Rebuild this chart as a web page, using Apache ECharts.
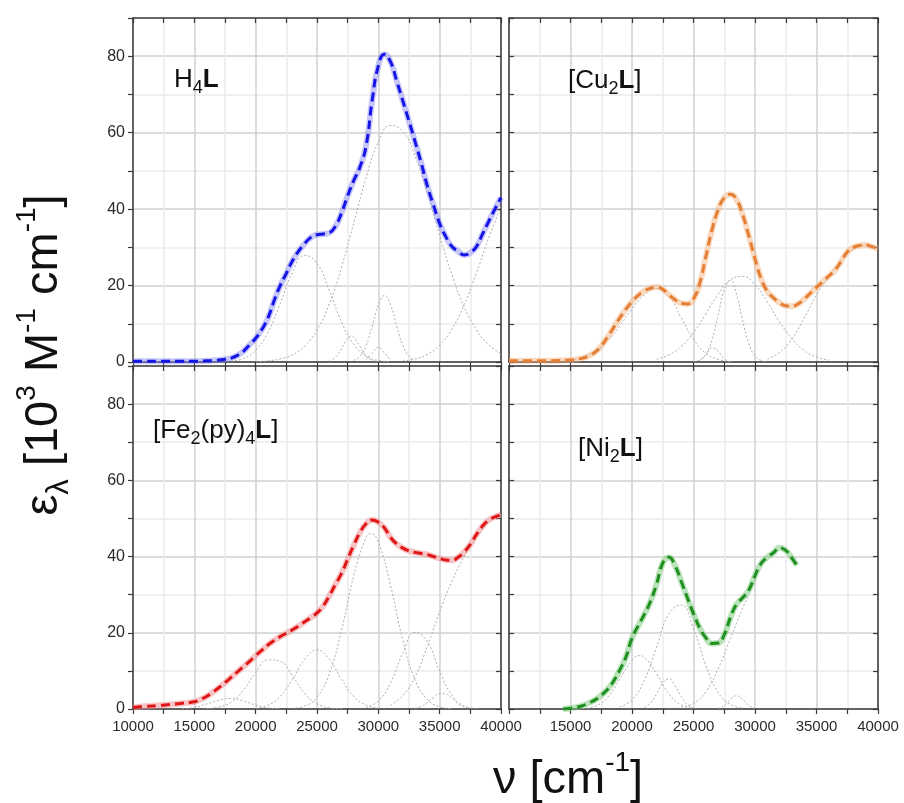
<!DOCTYPE html>
<html><head><meta charset="utf-8">
<script src="https://cdn.jsdelivr.net/npm/echarts@6/dist/echarts.min.js"></script>
<style>html,body{margin:0;padding:0;background:#fff}#c{width:904px;height:803px}</style>
</head><body><div id="c"></div>
<script>
// ---------- data (wavenumber cm^-1, epsilon 10^3 M^-1 cm^-1) ----------
const xTicks = [10000, 15000, 20000, 25000, 30000, 35000, 40000];
const yTicks = [0, 20, 40, 60, 80];

const h4lMain = [[10000,0.2],[11000,0.2],[12000,0.2],[13000,0.2],[14000,0.2],[15000,0.2],[16000,0.3],[16500,0.4],[17000,0.5],[17500,0.7],[18000,1.0],[18500,1.7],[19000,2.8],[19500,4.5],[20000,6.2],[20500,8.5],[21000,11.5],[21500,16],[22000,20],[22500,23.2],[23000,26.5],[23500,29],[24000,31],[24500,32.6],[25000,33.3],[25500,33.5],[26000,33.8],[26500,35.5],[27000,39],[27500,43.5],[28000,47.5],[28500,51],[29000,56.5],[29500,68.5],[30000,77.5],[30500,80.5],[31000,78.5],[31500,73.5],[32000,68.3],[32500,63],[33000,57.6],[33500,52],[34000,46],[34500,41],[35000,36.2],[35500,32.8],[36000,30.2],[36500,29],[37000,28],[37500,28.6],[38000,30.2],[38500,33.5],[39000,36.8],[39500,40],[40000,43]];
const h4lC1 = [[18000,0.2],[19000,0.9],[20000,3.1],[21000,7.8],[22000,15.3],[23000,23.4],[24000,27.9],[25000,25.8],[26000,18.7],[27000,10.5],[28000,4.6],[29000,1.6],[30000,0.4],[31000,0.1]];
const h4lC2 = [[20000,0.1],[21000,0.3],[22000,0.8],[23000,1.9],[24000,4.2],[25000,8.4],[26000,15.2],[27000,24.8],[28000,36.4],[29000,48.2],[30000,57.5],[31000,61.9],[32000,60.3],[33000,53.9],[34000,44.2],[35000,33.2],[36000,22.8],[37000,14.4],[38000,8.4],[39000,4.5],[40000,2.2]];
const h4lC3 = [[26000,0.2],[26500,1.2],[27000,3.5],[27500,6.2],[27800,6.8],[28000,6.5],[28500,4.1],[29000,1.6],[29500,0.4],[30000,0.1]];
const h4lC4 = [[28000,0.4],[28500,1.5],[29000,4.3],[29500,9.4],[30000,14.9],[30500,17.4],[31000,14.9],[31500,9.4],[32000,4.3],[32500,1.5],[33000,0.4]];
const h4lC5 = [[29000,0.5],[29500,2.3],[30000,3.8],[30500,2.3],[31000,0.5]];
const h4lC6 = [[32000,0.3],[33000,0.8],[34000,2],[35000,4.4],[36000,8.6],[37000,15],[38000,23.3],[39000,32.5],[40000,40.6]];

const cuMain = [[10000,0.3],[12000,0.3],[14000,0.4],[15000,0.5],[15500,0.7],[16000,1.0],[16500,1.6],[17000,2.6],[17500,4.2],[18000,6.5],[18500,9],[19000,11.5],[19500,13.8],[20000,15.8],[20500,17.4],[21000,18.6],[21500,19.3],[22000,19.6],[22500,19.0],[23000,17.6],[23500,16.3],[24000,15.4],[24500,15.2],[25000,16.5],[25500,20.5],[26000,27.5],[26500,34.5],[27000,39.8],[27500,43],[28000,43.9],[28500,42.5],[29000,38.5],[29500,33],[30000,27],[30500,21.8],[31000,18.5],[31500,16.8],[32000,15.5],[32500,14.7],[33000,14.6],[33500,15.2],[34000,16.5],[34500,18],[35000,19.5],[35500,21],[36000,22.5],[36500,24],[37000,26.3],[37500,28.8],[38000,30],[38500,30.5],[39000,30.6],[39500,30.2],[40000,29.6]];
const cuC1 = [[15000,0.5],[16000,1.2],[17000,2.8],[18000,5.5],[19000,9.4],[20000,13.9],[21000,17.5],[22000,19.2],[23000,17.2],[24000,11.6],[25000,6.0],[26000,2.3],[27000,0.7],[28000,0.15]];
const cuC2 = [[25000,0.1],[25500,0.5],[26000,2.0],[26500,5.8],[27000,12.2],[27500,18.8],[28000,21.3],[28500,17.7],[29000,10.8],[29500,4.8],[30000,1.6],[30500,0.4],[31000,0.1]];
const cuC3 = [[22000,0.7],[23000,1.9],[24000,4.1],[25000,7.7],[26000,12.6],[27000,17.7],[28000,21.5],[29000,22.4],[30000,20.2],[31000,15.7],[32000,10.5],[33000,6.1],[34000,3.0],[35000,1.3],[36000,0.5]];
const cuC4 = [[25500,0.3],[26000,1.9],[26500,3.7],[27000,2.8],[27500,0.75],[28000,0.1]];
const cuC5 = [[31000,0.8],[32000,2.5],[33000,6],[34000,11.5],[35000,17.5],[36000,22.5],[37000,26.5],[38000,29.5],[39000,30.5],[40000,29.5]];

const feMain = [[10000,0.4],[11000,0.7],[12000,0.9],[13000,1.2],[14000,1.5],[15000,1.9],[15500,2.5],[16000,3.3],[16500,4.4],[17000,5.6],[17500,6.9],[18000,8.3],[18500,9.7],[19000,11.1],[19500,12.5],[20000,14],[20500,15.4],[21000,16.8],[21500,18],[22000,19],[22500,19.9],[23000,20.8],[23500,21.8],[24000,22.9],[24500,24],[25000,25.2],[25500,27],[26000,29.7],[26500,32.7],[27000,35.6],[27500,39.3],[28000,43],[28500,46.3],[29000,48.6],[29500,49.6],[30000,49],[30500,47.5],[31000,45],[31500,43.3],[32000,42.2],[32500,41.5],[33000,41.1],[33500,40.8],[34000,40.5],[34500,40],[35000,39.5],[35500,39.1],[36000,39],[36500,39.8],[37000,41.2],[37500,43.2],[38000,45.8],[38500,48],[39000,49.6],[39500,50.4],[40000,51]];
const feC1 = [[14000,0.1],[15000,0.4],[16000,1.3],[17000,2.3],[18000,2.8],[19000,2.1],[20000,1.05],[21000,0.3],[22000,0.07]];
const feC2 = [[16000,0.1],[17000,0.5],[18000,1.8],[19000,4.9],[20000,9.5],[21000,12.9],[22000,12.5],[23000,8.6],[24000,4.1],[25000,1.4],[26000,0.3],[27000,0.05]];
const feC3 = [[20000,0.2],[21000,1.0],[22000,3.3],[23000,7.8],[24000,13.0],[25000,15.5],[26000,13.0],[27000,7.8],[28000,3.3],[29000,1.0],[30000,0.2]];
const feC4 = [[23000,0.2],[24000,0.8],[25000,3.1],[26000,9.3],[27000,20.7],[28000,35],[29000,45],[29400,46],[30000,43.8],[31000,32.3],[32000,18],[33000,7.6],[34000,2.5],[35000,0.6],[36000,0.1]];
const feC5 = [[29000,0.4],[30000,2.1],[31000,6.9],[32000,14.7],[33000,20.1],[34000,17.6],[35000,9.9],[36000,3.6],[37000,0.8],[38000,0.15]];
const feC6 = [[33000,0.2],[33500,0.7],[34000,1.7],[34500,3.0],[35000,4.0],[35500,3.9],[36000,2.8],[36500,1.4],[37000,0.55],[37500,0.2]];
const feC7 = [[31000,1],[32000,3.5],[33000,8.5],[34000,16.5],[35000,25.5],[36000,33.5],[37000,40],[38000,45],[39000,49],[40000,51]];

const niMain = [[14400,0],[15000,0.2],[15500,0.5],[16000,0.9],[16500,1.6],[17000,2.4],[17500,3.6],[18000,5.1],[18500,7.3],[19000,10.2],[19500,13.6],[20000,18.6],[20500,21.8],[21000,24.8],[21500,28.2],[22000,32.8],[22500,38.3],[23000,39.8],[23500,37.6],[24000,33.5],[24500,29.2],[25000,25],[25500,21.3],[26000,18.7],[26500,17.2],[27000,17.3],[27500,19.5],[28000,24],[28500,27.5],[29000,29.2],[29500,31.2],[30000,35],[30500,38.2],[31000,39.8],[31500,41],[32000,42.3],[32500,41.6],[33000,39.6],[33400,37.7]];
const niC1 = [[16000,0.1],[17000,0.75],[18000,3.0],[19000,7.8],[20000,12.8],[20600,14],[21000,13.6],[22000,9.2],[23000,4.0],[24000,1.1],[25000,0.2]];
const niC2 = [[21000,0.4],[21500,1.6],[22000,4.0],[22500,6.8],[23000,7.9],[23500,6.1],[24000,3.2],[24500,1.15],[25000,0.3]];
const niC3 = [[19000,0.55],[20000,2.4],[21000,7.5],[22000,16.2],[23000,25],[24000,27.3],[25000,21.1],[26000,11.5],[27000,4.4],[28000,1.2],[29000,0.25]];
const niC4 = [[27000,0.15],[27500,0.9],[28000,2.5],[28500,3.5],[29000,2.5],[29500,0.9],[30000,0.15]];
const niC5 = [[24000,0.5],[25000,1.5],[26000,4.5],[27000,10.5],[28000,18.5],[28500,22.5],[29000,26.5],[29500,30]];

// ---------- layout / style ----------
const FF = '"Liberation Sans", Arial, Helvetica, sans-serif';
const GRIDS = [
  {left:133, top:18, width:368, height:344},
  {left:509, top:18, width:369, height:344},
  {left:133, top:366, width:368, height:343},
  {left:509, top:366, width:369, height:343}
];
const panels = [
  {main:h4lMain, comps:[h4lC1,h4lC2,h4lC3,h4lC4,h4lC5,h4lC6], pale:'rgba(130,130,245,0.45)', dark:'#1414e6'},
  {main:cuMain, comps:[cuC1,cuC2,cuC3,cuC4,cuC5], pale:'rgba(245,175,120,0.45)', dark:'#e57f35'},
  {main:feMain, comps:[feC1,feC2,feC3,feC4,feC5,feC6,feC7], pale:'rgba(240,140,140,0.5)', dark:'#e01515'},
  {main:niMain, comps:[niC1,niC2,niC3,niC4,niC5], pale:'rgba(120,200,120,0.5)', dark:'#1f8f1f'}
];
const AX = '#3a3a3a';
const xAxes = [], yAxes = [], series = [];
GRIDS.forEach((g, i) => {
  const isBottom = i >= 2, isLeft = i % 2 === 0;
  xAxes.push({type:'value', gridIndex:i, position:'bottom', min:xTicks[0], max:xTicks[xTicks.length-1], interval:2500,
    axisLine:{show:true, onZero:false, lineStyle:{color:AX, width:1.5}},
    axisTick:{show:true, inside:false, length:5, lineStyle:{color:AX, width:1.2}},
    axisLabel:{show:isBottom, fontSize:15, color:'#2a2a2a', fontFamily:FF, margin:10,
      formatter:v => (xTicks.includes(v) && !(i === 3 && v === 10000)) ? String(v) : ''},
    splitLine:{show:true, lineStyle:{color:['#d0d0d0','#ebebeb'], width:1.5}}});
  xAxes.push({type:'value', gridIndex:i, position:'top', min:xTicks[0], max:xTicks[xTicks.length-1], interval:2500,
    axisLine:{show:true, onZero:false, lineStyle:{color:AX, width:1.5}},
    axisTick:{show:true, inside:true, length:5, lineStyle:{color:AX, width:1.2}},
    axisLabel:{show:false}, splitLine:{show:false}});
  yAxes.push({type:'value', gridIndex:i, position:'left', min:0, max:90, interval:10,
    axisLine:{show:true, onZero:false, lineStyle:{color:AX, width:1.5}},
    axisTick:{show:true, inside:!isLeft, length:5, lineStyle:{color:AX, width:1.2}},
    axisLabel:{show:isLeft, fontSize:16, color:'#2a2a2a', fontFamily:FF, margin:8,
      formatter:v => yTicks.includes(v) ? String(v) : ''},
    splitLine:{show:true, lineStyle:{color:['#d0d0d0','#ebebeb'], width:1.5}}});
  yAxes.push({type:'value', gridIndex:i, position:'right', min:0, max:90, interval:10,
    axisLine:{show:true, onZero:false, lineStyle:{color:AX, width:1.5}},
    axisTick:{show:true, inside:true, length:5, lineStyle:{color:AX, width:1.2}},
    axisLabel:{show:false}, splitLine:{show:false}});
  const p = panels[i];
  p.comps.forEach(c => series.push({type:'line', xAxisIndex:2*i, yAxisIndex:2*i, data:c, showSymbol:false, smooth:true,
    clip:true, silent:true, z:2, lineStyle:{color:'#adadad', width:1, type:[2,2]}}));
  series.push({type:'line', xAxisIndex:2*i, yAxisIndex:2*i, data:p.main, showSymbol:false, smooth:true,
    clip:true, silent:true, z:3, lineStyle:{color:p.pale, width:6}});
  series.push({type:'line', xAxisIndex:2*i, yAxisIndex:2*i, data:p.main, showSymbol:false, smooth:true,
    clip:true, silent:true, z:4, lineStyle:{color:p.dark, width:3, type:[9,5]}});
});

const labRich = {
  n:{fontSize:26, lineHeight:34, fontFamily:FF, fill:'#111'},
  b:{fontSize:26, lineHeight:34, fontFamily:FF, fontWeight:'bold', fill:'#111'},
  s:{fontSize:18, lineHeight:18, fontFamily:FF, fill:'#111', verticalAlign:'bottom'}
};
const titleRich = {
  n:{fontSize:47, lineHeight:62, fontFamily:FF, fill:'#111'},
  sub:{fontSize:31, lineHeight:31, fontFamily:FF, fill:'#111', verticalAlign:'bottom'},
  sup:{fontSize:28, lineHeight:28, fontFamily:FF, fill:'#111', verticalAlign:'top'}
};
function txt(x, y, text, rich, align, rot) {
  return {type:'text', x:x, y:y, rotation:rot || 0, silent:true, z:10,
    style:{text:text, rich:rich, align:align, verticalAlign:'middle', textAlign:align, textVerticalAlign:'middle', fill:'#111'}};
}
const graphics = [
  txt(174, 80, '{n|H}{s|4}{b|L}', labRich, 'left'),
  txt(568, 81, '{n|[Cu}{s|2}{b|L}{n|]}', labRich, 'left'),
  txt(153, 431, '{n|[Fe}{s|2}{n|(py)}{s|4}{b|L}{n|]}', labRich, 'left'),
  txt(578, 449, '{n|[Ni}{s|2}{b|L}{n|]}', labRich, 'left'),
  txt(568, 780, '{n|ν [cm}{sup|-1}{n|]}', titleRich, 'center'),
  txt(44, 355, '{n|ε}{sub|λ}{n| [10}{sup|3}{n| M}{sup|-1}{n| cm}{sup|-1}{n|]}', titleRich, 'center', Math.PI/2)
];

const chart = echarts.init(document.getElementById('c'), null, {renderer:'canvas'});
chart.setOption({
  animation:false,
  backgroundColor:'#ffffff',
  grid:GRIDS,
  xAxis:xAxes,
  yAxis:yAxes,
  series:series,
  graphic:{elements:graphics}
});
</script></body></html>
